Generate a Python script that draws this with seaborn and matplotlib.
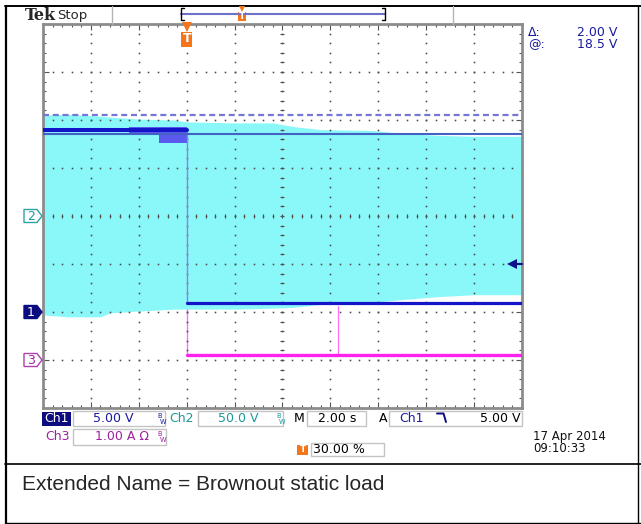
import numpy as np
import pandas as pd
import matplotlib
matplotlib.use('Agg')
import matplotlib.pyplot as plt
from matplotlib.patches import Rectangle, Polygon
import seaborn as sns

# ── 1. Scope settings ─────────────────────────────────────────────────────────
time_scale = 2.0      # s/div
trig_pos = 30.0       # % of record
ch1_scale, ch1_offset = 5.0, -2.0    # V/div, div
ch2_scale, ch2_offset = 50.0, 0.0    # V/div, div
ch3_scale, ch3_offset = 1.0, -3.0    # A/div, div
trig_level = 5.0      # V on Ch1
cursor_at = 18.5      # V
cursor_delta = 2.0    # V

# ── 2. Traces ─────────────────────────────────────────────────────────────────
# Ch2: AC line voltage, envelope only
ch2_t   = [-6, -5, -3.6, -3.2, -2, -0.5, 0, 2, 3.6, 4.5, 5.6, 7.8, 9, 10.5, 12, 14]
ch2_top = [105, 106, 104, 103, 101, 100, 98, 97, 97, 93, 90, 89, 86, 84, 83, 83]
ch2_bot = [-103, -105, -105, -101, -99, -97, -97, -97, -96, -95, -92, -90, -87, -84, -82, -82]

# Ch1: output voltage
ch1_t_before = [-6, 0]
ch1_v_before = [19.0, 19.0]
ch1_t_after  = [0, 14]
ch1_v_after  = [0.9, 0.9]
ripple_t  = [-2.4, -1.15, -1.15, 0]
ripple_lo = [18.4, 18.4, 17.6, 17.6]
ripple_hi = [19.3, 19.3, 19.3, 19.3]

# Ch3: load current
ch3_t = [-6, 0, 0, 14]
ch3_a = [1.12, 1.12, 0.1, 0.1]
spike_t = [6.3, 6.3]
spike_a = [0.1, 1.12]


def tdiv(t):
    return np.asarray(t, dtype=float) / time_scale + trig_pos / 10.0


def vdiv(v, scale, offset):
    return np.asarray(v, dtype=float) / scale + offset


# ── 3. Figure / layout (pixel geometry of the screenshot) ────────────────────
W, H = 641, 524
AX_L, AX_T, AX_W, AX_H = 43, 24, 479, 384


def px_x(d):
    return AX_L + d * AX_W / 10.0


def px_y(d):
    return AX_T + (4 - d) * AX_H / 8.0


sns.set_style('white')
plt.rcParams['font.family'] = ['DejaVu Sans']

fig = plt.figure(figsize=(W / 100, H / 100), dpi=100)
fig.patch.set_facecolor('white')
ax = fig.add_axes([AX_L / W, 1 - (AX_T + AX_H) / H, AX_W / W, AX_H / H], zorder=1)
ov = fig.add_axes([0, 0, 1, 1], zorder=2)
ov.set_xlim(0, W)
ov.set_ylim(H, 0)
ov.axis('off')

# ── 4. Waveforms ──────────────────────────────────────────────────────────────
cyan = '#8af8f8'
ax.fill_between(tdiv(ch2_t), vdiv(ch2_bot, ch2_scale, ch2_offset),
                vdiv(ch2_top, ch2_scale, ch2_offset), color=cyan, lw=0, zorder=1)

ch3 = pd.DataFrame({'x': tdiv(ch3_t), 'y': vdiv(ch3_a, ch3_scale, ch3_offset)})
sns.lineplot(data=ch3.iloc[1:3], x='x', y='y', ax=ax, estimator=None, sort=False,
             color='#ff70ff', lw=1.0, zorder=0.8)
sns.lineplot(data=ch3.iloc[2:], x='x', y='y', ax=ax, estimator=None, sort=False,
             color='#ff22ee', lw=2.4, zorder=3)
sns.lineplot(x=tdiv(spike_t), y=vdiv(spike_a, ch3_scale, ch3_offset), ax=ax,
             estimator=None, sort=False, color='#ff70ff', lw=0.9, zorder=2.9)

ax.fill_between(tdiv(ripple_t), vdiv(ripple_lo, ch1_scale, ch1_offset),
                vdiv(ripple_hi, ch1_scale, ch1_offset), color='#5a5aee', lw=0, zorder=2.5)
sns.lineplot(x=tdiv([ch1_t_before[-1], ch1_t_after[0]]),
             y=vdiv([ch1_v_before[-1], ch1_v_after[0]], ch1_scale, ch1_offset),
             ax=ax, estimator=None, sort=False, color='#8484f0', lw=1.0, zorder=2.6)
sns.lineplot(x=tdiv(ch1_t_before), y=vdiv(ch1_v_before, ch1_scale, ch1_offset), ax=ax,
             estimator=None, color='#1414c8', lw=2.9, zorder=3)
sns.lineplot(x=tdiv(ch1_t_after), y=vdiv(ch1_v_after, ch1_scale, ch1_offset), ax=ax,
             estimator=None, color='#1414c8', lw=2.3, zorder=3)

# cursors
ax.axhline(vdiv(cursor_at, ch1_scale, ch1_offset), color='#4462c4', lw=1.5, zorder=4)
ax.axhline(vdiv(cursor_at + cursor_delta, ch1_scale, ch1_offset), color='#7676d6',
           lw=1.6, ls=(0, (2.7, 1.7)), zorder=4)

# trigger level arrow
tl = vdiv(trig_level, ch1_scale, ch1_offset)
ax.plot([9.86, 10], [tl, tl], color='#10108a', lw=1.6, zorder=5, clip_on=False)
ax.plot(9.8, tl, marker='<', ms=6.5, color='#10108a', mew=0, zorder=5)

# ── 5. Graticule ──────────────────────────────────────────────────────────────
ax.set_xlim(0, 10)
ax.set_ylim(-4, 4)
minor = np.arange(0, 10.01, 0.2)
minor_y = np.arange(-4, 4.01, 0.2)
dot = dict(ls='none', marker='s', ms=1.15, mew=0, color='#4a4a4a', zorder=2)
for k in range(1, 10):
    ax.plot(np.full_like(minor_y, k), minor_y, **dot)
for k in range(-3, 4):
    ax.plot(minor, np.full_like(minor, k), **dot)
ax.plot(np.full_like(minor_y, 5), minor_y, ls='none', marker='_', ms=3.2, mew=0.8,
        color='#505050', zorder=2)
ax.plot(minor, np.zeros_like(minor), ls='none', marker='|', ms=3.2, mew=0.8,
        color='#505050', zorder=2)

ax.set_xticks(np.arange(0, 10.01, 1))
ax.set_yticks(np.arange(-4, 4.01, 1))
ax.set_xticks(minor, minor=True)
ax.set_yticks(minor_y, minor=True)
ax.tick_params(which='both', direction='in', top=True, right=True, bottom=True, left=True,
               labelbottom=False, labelleft=False, color='#555555', width=0.8)
ax.tick_params(which='major', length=4)
ax.tick_params(which='minor', length=2)
for s in ax.spines.values():
    s.set_color('#8c8c8c')
    s.set_linewidth(2)
ax.set_xlabel('')
ax.set_ylabel('')

# ── 6. Screen annotations ─────────────────────────────────────────────────────
navy, blue, teal, mag, orange = '#0c0c80', '#1a1aa0', '#1a9a9a', '#a020a0', '#f5761a'
box_ec = '#c4c4c4'

# outer frame
ov.plot([5.5, 5.5], [6, H], color='black', lw=1.6)
ov.plot([5, W], [6, 6], color='black', lw=1.4)
ov.plot([5, W], [463.5, 463.5], color='black', lw=1.2)
ov.plot([638, 638], [6, H], color='black', lw=1.0)
ov.plot([5, W], [523, 523], color='black', lw=1.0)

# top bar
ov.text(25, 15, 'Tek', fontsize=11.5, fontweight='bold', family='DejaVu Serif',
        va='center', ha='left')
ov.text(57, 15, 'Stop', fontsize=9.5, va='center', ha='left')
ov.plot([112, 112], [6, 24], color='#b4b4b4', lw=1)
ov.plot([453, 453], [6, 24], color='#b4b4b4', lw=1)
ov.plot([181, 385], [14, 14], color='#7070c8', lw=1.5)
ov.plot([184, 181, 181, 184], [8, 8, 20, 20], color='black', lw=1)
ov.plot([382, 385, 385, 382], [8, 8, 20, 20], color='black', lw=1)


def trig_mark(x, y_tri, y0, w, h, fs):
    ov.plot(x, y_tri, marker='v', ms=w * 0.62, color=orange, mew=0)
    ov.add_patch(Rectangle((x - w / 2, y0), w, h, fc=orange, ec='none'))
    ov.text(x, y0 + h / 2, 'T', color='white', fontsize=fs, fontweight='bold',
            ha='center', va='center')


trig_mark(181 + (385 - 181) * trig_pos / 100, 8.5, 11.5, 8, 9.5, 6.5)
trig_mark(px_x(tdiv(0)), 27, 31.5, 11, 15, 9)

# cursor readout
ov.text(528, 32, '\u0394:', color=blue, fontsize=9, va='center')
ov.text(617, 32, f'{cursor_delta:.2f} V', color=blue, fontsize=9, va='center', ha='right')
ov.text(528, 44.5, '@:', color=blue, fontsize=9, va='center')
ov.text(617, 44.5, f'{cursor_at:.1f} V', color=blue, fontsize=9, va='center', ha='right')

# channel ground markers


def chan_marker(label, off, fc, ec, tc):
    y = px_y(off)
    pts = [(24, y - 6.5), (37, y - 6.5), (42, y), (37, y + 6.5), (24, y + 6.5)]
    ov.add_patch(Polygon(pts, closed=True, fc=fc, ec=ec, lw=1))
    ov.text(31, y + 0.5, label, color=tc, fontsize=9, ha='center', va='center')


chan_marker('1', ch1_offset, navy, navy, 'white')
chan_marker('2', ch2_offset, 'white', '#2aa4a4', teal)
chan_marker('3', ch3_offset, 'white', '#b040b0', mag)


# status bar
def sbox(x0, y0, x1, y1):
    ov.add_patch(Rectangle((x0, y0), x1 - x0, y1 - y0, fc='none', ec=box_ec, lw=1))


def bw(x, y, c):
    ov.text(x, y - 3, 'B', color=c, fontsize=4.8, ha='left', va='center')
    ov.text(x + 2.5, y + 3, 'W', color=c, fontsize=4.8, ha='left', va='center')


ov.add_patch(Rectangle((42, 411.5), 29, 14, fc=navy, ec='none'))
ov.text(56.5, 418.5, 'Ch1', color='white', fontsize=9, ha='center', va='center')
sbox(73, 411, 165, 426)
ov.text(113, 418.5, f'{ch1_scale:.2f} V', color=blue, fontsize=9, ha='center', va='center')
bw(157, 418.5, blue)
ov.text(182, 418.5, 'Ch2', color=teal, fontsize=9, ha='center', va='center')
sbox(198, 411, 283, 426)
ov.text(238, 418.5, f'{ch2_scale:.1f} V', color=teal, fontsize=9, ha='center', va='center')
bw(276, 418.5, teal)
ov.text(299, 418.5, 'M', color='black', fontsize=9, ha='center', va='center')
sbox(307, 411, 366, 426)
ov.text(337, 418.5, f'{time_scale:.2f} s', color='black', fontsize=9, ha='center', va='center')
ov.text(383, 418.5, 'A', color='black', fontsize=9, ha='center', va='center')
sbox(389, 411, 522, 426)
ov.text(411, 418.5, 'Ch1', color=blue, fontsize=9, ha='center', va='center')
ov.plot([437, 443.5, 446], [413.5, 413.5, 422], color=navy, lw=1.4)
ov.text(520, 418.5, f'{trig_level:.2f} V', color='black', fontsize=9, ha='right', va='center')

ov.text(57, 437, 'Ch3', color=mag, fontsize=9, ha='center', va='center')
sbox(73, 429, 166, 445)
ov.text(122, 437, f'{ch3_scale:.2f} A \u03a9', color=mag, fontsize=9, ha='center', va='center')
bw(157, 437, mag)

ov.add_patch(Rectangle((297, 445), 11, 10, fc=orange, ec='none'))
ov.text(302.5, 450, 'T', color='white', fontsize=6.5, fontweight='bold', ha='center', va='center')
sbox(311, 443, 384, 456)
ov.text(313, 449.5, f'{trig_pos:.2f} %', color='black', fontsize=9, ha='left', va='center')

ov.text(533, 436.5, '17 Apr 2014', color='#111111', fontsize=8.5, ha='left', va='center')
ov.text(533, 448.5, '09:10:33', color='#111111', fontsize=8.5, ha='left', va='center')

# caption below the screenshot
ov.text(22, 484, 'Extended Name = Brownout static load', fontsize=15,
        family=['Liberation Sans', 'DejaVu Sans'], ha='left', va='center')

fig.savefig('out.png', dpi=100)
